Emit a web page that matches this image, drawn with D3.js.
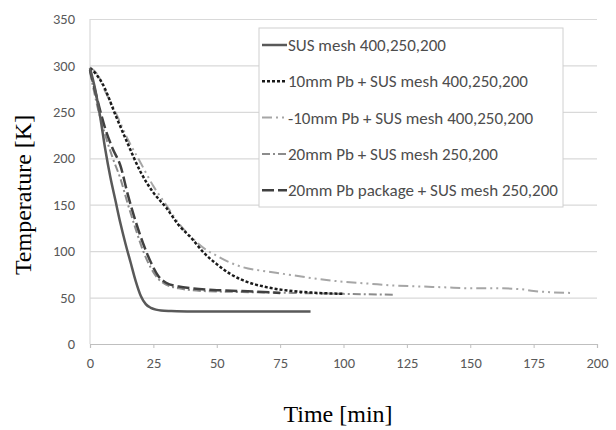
<!DOCTYPE html>
<html>
<head>
<meta charset="utf-8">
<script src="https://cdn.jsdelivr.net/npm/d3@7"></script>
<style>
  body { margin: 0; background: #fff; }
  .tick-label { font-family: "Carlito", "Open Sans", "Noto Sans", sans-serif; font-size: 14.5px; fill: #595959; }
  .legend-text { font-family: "Carlito", "Open Sans", "Noto Sans", sans-serif; font-size: 17px; fill: #4d4d4d; }
  .axis-title { font-family: "Liberation Serif", "Times New Roman", serif; font-size: 24px; fill: #000; }
</style>
</head>
<body>
<svg id="chart" width="616" height="430"></svg>
<script>
// data
let seriesNames = [
  "SUS mesh 400,250,200",
  "10mm Pb + SUS mesh 400,250,200",
  "-10mm Pb + SUS mesh 400,250,200",
  "20mm Pb + SUS mesh 250,200",
  "20mm Pb package + SUS mesh 250,200"
];

let t1 = [0, 2, 4, 6, 8, 10, 12, 14, 16, 18, 20, 22, 24, 26, 28, 32, 40, 60, 87];
let T1 = [297, 275, 245, 210, 180, 155, 130, 108, 88, 68, 52, 43, 39, 37, 36, 35.5, 35, 35, 35];

let t2 = [0, 2, 5, 10, 15, 20, 25, 30, 35, 40, 45, 50, 55, 60, 70, 80, 90, 100];
let T2 = [297, 292, 280, 247, 215, 185, 163, 147, 128, 114, 98, 86, 76, 69, 61, 57, 55, 54];

let t3 = [0, 3, 6, 10, 15, 20, 25, 30, 35, 40, 45, 50, 55, 60, 70, 75, 80, 90, 100, 110, 120, 130, 140, 150, 160, 170, 175, 180, 190];
let T3 = [298, 290, 272, 250, 220, 195, 170, 150, 130, 115, 103, 95, 88, 83, 78, 76, 74, 70, 67, 65, 63, 62, 61, 60, 60, 59, 57, 56, 55];

let t4 = [0, 3, 6, 9, 12, 15, 18, 21, 24, 27, 30, 35, 45, 60, 80, 100, 120];
let T4 = [293, 255, 225, 200, 178, 150, 124, 100, 82, 70, 64, 60, 57, 56, 55, 54, 53];

let t5 = [0, 3, 6, 9, 12, 15, 18, 21, 24, 27, 30, 35, 40, 50, 60, 75];
let T5 = [295, 262, 232, 210, 192, 160, 132, 108, 88, 73, 66, 62, 60, 58, 57, 55];

let xTicks = [0, 25, 50, 75, 100, 125, 150, 175, 200];
let yTicks = [0, 50, 100, 150, 200, 250, 300, 350];

let times = [t1, t2, t3, t4, t5];
let temps = [T1, T2, T3, T4, T5];

// line looks per series
let colors = ["#595959", "#1a1a1a", "#a6a6a6", "#8c8c8c", "#404040"];
let dashes = [null, "3,2", "10,4,2,4,2,4", "8,3,2,3", "12,4"];
let widths = [2.5, 2.5, 2, 2, 2.5];

let svg = d3.select("#chart");

let x = d3.scaleLinear().domain([0, 200]).range([90, 597]);
let y = d3.scaleLinear().domain([0, 350]).range([344, 19]);

// gridlines
svg.append("g")
  .call(d3.axisLeft(y).tickValues(yTicks.slice(1)).tickSize(-(x.range()[1] - x.range()[0])).tickFormat(""))
  .attr("transform", "translate(" + x.range()[0] + ",0)")
  .call(g => g.select(".domain").remove())
  .call(g => g.selectAll("line").attr("stroke", "#d9d9d9").attr("stroke-width", 1.2));

// y axis line
svg.append("line")
  .attr("x1", x(0)).attr("x2", x(0))
  .attr("y1", y(350)).attr("y2", y(0))
  .attr("stroke", "#d9d9d9")
  .attr("stroke-width", 1.2);

// y tick labels
svg.append("g")
  .selectAll("text")
  .data(yTicks)
  .enter()
  .append("text")
  .classed("tick-label", true)
  .attr("x", x(0) - 15)
  .attr("y", d => y(d))
  .attr("dy", "0.35em")
  .attr("text-anchor", "end")
  .text(d => d);

// x axis
let xAxis = d3.axisBottom(x).tickValues(xTicks).tickSize(4).tickPadding(10);
svg.append("g")
  .attr("transform", "translate(0," + y(0) + ")")
  .call(xAxis)
  .call(g => g.select(".domain").attr("stroke", "#bfbfbf").attr("stroke-width", 1.2))
  .call(g => g.selectAll("line").attr("stroke", "#bfbfbf"))
  .call(g => g.selectAll("text").attr("class", "tick-label").attr("fill", null));

// series lines
let line = d3.line()
  .x(d => x(d[0]))
  .y(d => y(d[1]))
  .curve(d3.curveMonotoneX);

let seriesData = times.map((ts, i) => ts.map((t, j) => [t, temps[i][j]]));

// draw slow ones first so the dark ones sit on top
let drawOrder = [2, 3, 4, 1, 0];
drawOrder.forEach(function(i) {
  svg.append("path")
    .datum(seriesData[i])
    .attr("d", line)
    .attr("fill", "none")
    .attr("stroke", colors[i])
    .attr("stroke-width", widths[i])
    .attr("stroke-dasharray", dashes[i]);
});

// legend
let legend = svg.append("g").attr("transform", "translate(259,28)");

legend.append("rect")
  .attr("width", 304)
  .attr("height", 179)
  .attr("fill", "#fff")
  .attr("stroke", "#d0d0d0");

let items = legend.selectAll(".item")
  .data(seriesNames)
  .enter()
  .append("g")
  .classed("item", true)
  .attr("transform", (d, i) => "translate(0," + (17 + i * 36.3) + ")");

items.append("line")
  .attr("x1", 3).attr("x2", 28)
  .attr("stroke", (d, i) => colors[i])
  .attr("stroke-width", (d, i) => widths[i])
  .attr("stroke-dasharray", (d, i) => dashes[i]);

items.append("text")
  .classed("legend-text", true)
  .attr("x", 29)
  .attr("dy", "0.35em")
  .text(d => d);

// axis titles
svg.append("text")
  .classed("axis-title", true)
  .attr("text-anchor", "middle")
  .attr("transform", "translate(31," + 195 + ") rotate(-90)")
  .text("Temperature [K]");

svg.append("text")
  .classed("axis-title", true)
  .attr("text-anchor", "middle")
  .attr("x", 338)
  .attr("y", 422)
  .text("Time [min]");
</script>
</body>
</html>
